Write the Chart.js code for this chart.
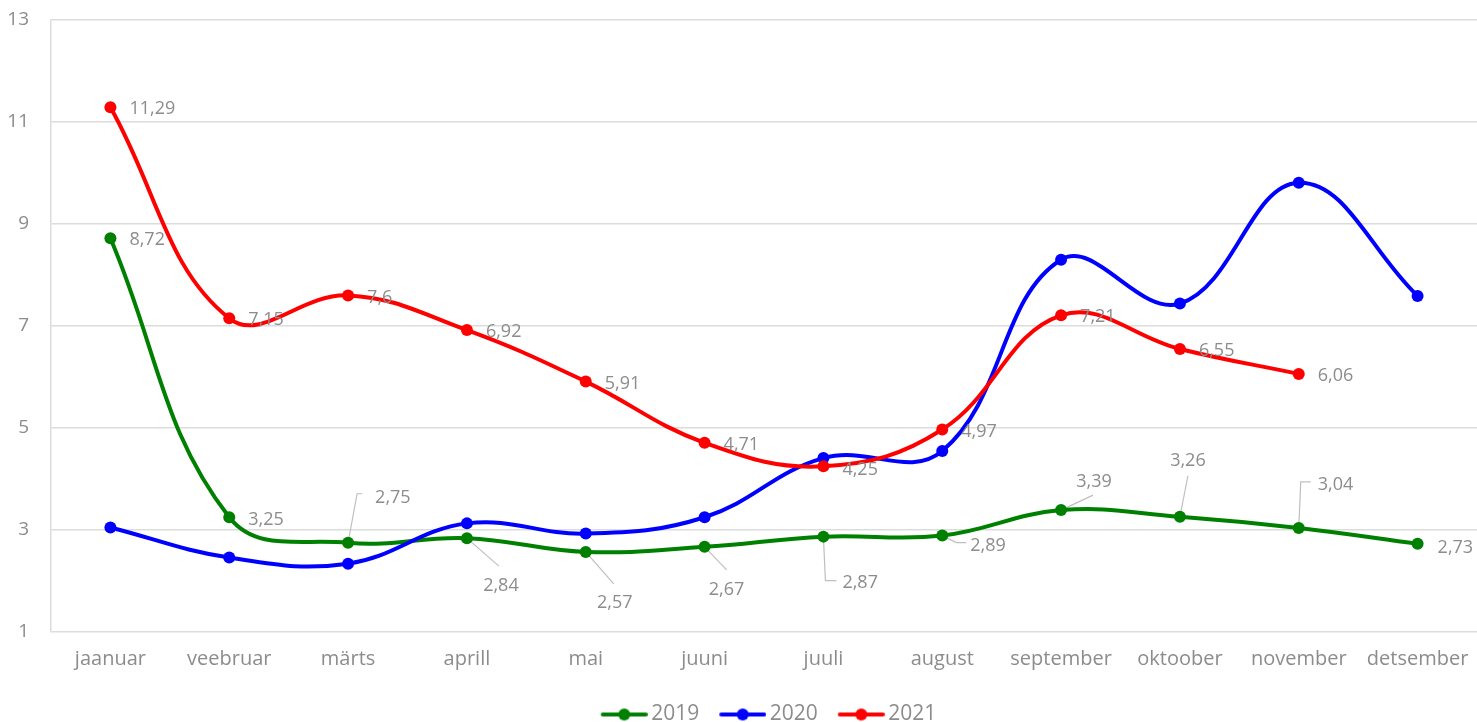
<!DOCTYPE html>
<html>
<head>
<meta charset="utf-8">
<script src="https://cdn.jsdelivr.net/npm/chart.js@4"></script>
<style>
  html, body { margin: 0; padding: 0; background: #fff; }
  canvas { display: block; }
</style>
</head>
<body>
<canvas id="chart" width="1477" height="722"></canvas>
<script>
// ── Données ──────────────────────────────────────────────
const MONTHS = ['jaanuar','veebruar','märts','aprill','mai','juuni',
                'juuli','august','september','oktoober','november','detsember'];
const SERIES_NAMES = ['2019', '2020', '2021'];
const VALUES_2019 = [8.72, 3.25, 2.75, 2.84, 2.57, 2.67, 2.87, 2.89, 3.39, 3.26, 3.04, 2.73];
const VALUES_2020 = [3.05, 2.46, 2.34, 3.13, 2.93, 3.25, 4.41, 4.55, 8.30, 7.44, 9.81, 7.59];
const VALUES_2021 = [11.29, 7.15, 7.6, 6.92, 5.91, 4.71, 4.25, 4.97, 7.21, 6.55, 6.06, null];
const Y_MIN = 1, Y_MAX = 13, Y_STEP = 2;

const COLORS = ['#008000', '#0000ff', '#ff0000'];
const TEXT_GREY = '#8c8c8c';
const GRID_GREY = '#dcdcdc';
const FONT = "'Open Sans', sans-serif";

// Placement des étiquettes (décalage par rapport au point, lignes de rappel)
const R = { dx: 19, dy: 2 };
const LABEL_SPOTS = [
  [
    { dx: 19, dy: 2 },
    { dx: 19, dy: 3 },
    { dx: 27, dy: -45, leader: [[9, -49], [14, -49]] },
    { dx: 34, dy: 48, align: 'center', leader: [[32, 28]] },
    { dx: 29, dy: 51, align: 'center', leader: [[28, 32]] },
    { dx: 22, dy: 43, align: 'center', leader: [[22, 23]] },
    { dx: 19, dy: 46, leader: [[2, 44], [13, 44]] },
    { dx: 28, dy: 10, leader: [[14, 7], [24, 7]] },
    { dx: 33, dy: -28, align: 'center', leader: [[32, -15]] },
    { dx: 8, dy: -56, align: 'center', leader: [[8, -41]] },
    { dx: 19, dy: -43, leader: [[2, -46], [12, -46]] },
    { dx: 20, dy: 4 }
  ],
  null, // 2020 : pas d'étiquettes
  [R, R, R, R, R, R, { dx: 19, dy: 4 }, R, R, R, R, R]
];

const fmt = v => String(v).replace('.', ',');

// Icône de légende : trait + point
// la case fait 56 px ; le trait visible va de +16 à +63 (déborde à droite)
const LEG_BOX = 56;
function legendIcon(color) {
  const c = document.createElement('canvas');
  c.width = 70; c.height = 14;
  const g = c.getContext('2d');
  const x0 = 23, x1 = 70; // centre de la case = 35
  g.strokeStyle = color; g.fillStyle = color;
  g.lineWidth = 4; g.lineCap = 'round';
  g.beginPath(); g.moveTo(x0 + 2, 7); g.lineTo(x1 - 2, 7); g.stroke();
  g.beginPath(); g.arc((x0 + x1) / 2, 7, 6, 0, Math.PI * 2); g.fill();
  return c;
}
const ICONS = COLORS.map(legendIcon);

// ── Plugin : étiquettes de valeurs ───────────────────────
const valueLabels = {
  id: 'valueLabels',
  afterLayout(chart) {
    // décaler la légende comme dans l'original
    const lg = chart.legend;
    lg.left += 22; lg.right += 22;
    lg.top += 13; lg.bottom += 13;
  },
  beforeDatasetsDraw(chart) {
    // lignes de rappel sous les points
    const ctx = chart.ctx;
    ctx.save();
    ctx.strokeStyle = '#bfbfbf';
    ctx.lineWidth = 1.2;
    chart.data.datasets.forEach((ds, di) => {
      const spots = LABEL_SPOTS[di];
      if (!spots) return;
      chart.getDatasetMeta(di).data.forEach((pt, i) => {
        const s = spots[i];
        if (ds.data[i] == null || !s || !s.leader) return;
        ctx.beginPath();
        ctx.moveTo(pt.x, pt.y);
        s.leader.forEach(([lx, ly]) => ctx.lineTo(pt.x + lx, pt.y + ly));
        ctx.stroke();
      });
    });
    ctx.restore();
  },
  afterDatasetsDraw(chart) {
    const ctx = chart.ctx;
    ctx.save();
    ctx.font = '18px ' + FONT;
    ctx.fillStyle = TEXT_GREY;
    ctx.textBaseline = 'middle';
    chart.data.datasets.forEach((ds, di) => {
      const spots = LABEL_SPOTS[di];
      if (!spots) return;
      chart.getDatasetMeta(di).data.forEach((pt, i) => {
        const v = ds.data[i];
        const s = spots[i];
        if (v == null || !s) return;
        ctx.textAlign = s.align || 'left';
        ctx.fillText(fmt(v), pt.x + s.dx, pt.y + s.dy);
      });
    });
    ctx.restore();
  }
};

function makeDataset(i, data) {
  return {
    label: SERIES_NAMES[i],
    data,
    borderColor: COLORS[i],
    backgroundColor: COLORS[i],
    borderWidth: 4,
    pointRadius: 6,
    pointBorderWidth: 0,
    pointBackgroundColor: COLORS[i],
    tension: 0.4,
    fill: false,
    order: 3 - i // 2021 dessiné au-dessus
  };
}

new Chart(document.getElementById('chart').getContext('2d'), {
  type: 'line',
  data: {
    labels: MONTHS,
    datasets: [
      makeDataset(0, VALUES_2019),
      makeDataset(1, VALUES_2020),
      makeDataset(2, VALUES_2021)
    ]
  },
  options: {
    responsive: false,
    animation: false,
    layout: { autoPadding: false, padding: { top: 20, right: 0, left: 0, bottom: 0 } },
    scales: {
      x: {
        offset: true,
        grid: { display: false },
        border: { display: false },
        ticks: { color: TEXT_GREY, font: { family: FONT, size: 20 }, padding: 7, maxRotation: 0, autoSkip: false },
        afterFit: s => { s.height = 55; s.paddingRight = 0; s.paddingLeft = 0; }
      },
      y: {
        min: Y_MIN, max: Y_MAX,
        grid: { color: GRID_GREY, lineWidth: 1.5, drawTicks: false },
        border: { display: true, color: GRID_GREY, width: 1.5 },
        ticks: { stepSize: Y_STEP, color: TEXT_GREY, font: { family: FONT, size: 19 }, padding: 22 },
        afterFit: s => { s.width = 51; s.paddingTop = 0; s.paddingBottom = 0; }
      }
    },
    plugins: {
      tooltip: { enabled: false },
      legend: {
        position: 'bottom',
        labels: {
          usePointStyle: true,
          pointStyleWidth: LEG_BOX,
          padding: 4,
          color: TEXT_GREY,
          font: { family: FONT, size: 21 },
          sort: (a, b) => a.datasetIndex - b.datasetIndex,
          generateLabels: chart => chart.data.datasets.map((ds, i) => ({
            text: ds.label,
            fillStyle: COLORS[i],
            strokeStyle: COLORS[i],
            lineWidth: 0,
            pointStyle: ICONS[i],
            fontColor: TEXT_GREY,
            hidden: false,
            datasetIndex: i
          }))
        }
      }
    }
  },
  plugins: [valueLabels]
});
</script>
</body>
</html>
